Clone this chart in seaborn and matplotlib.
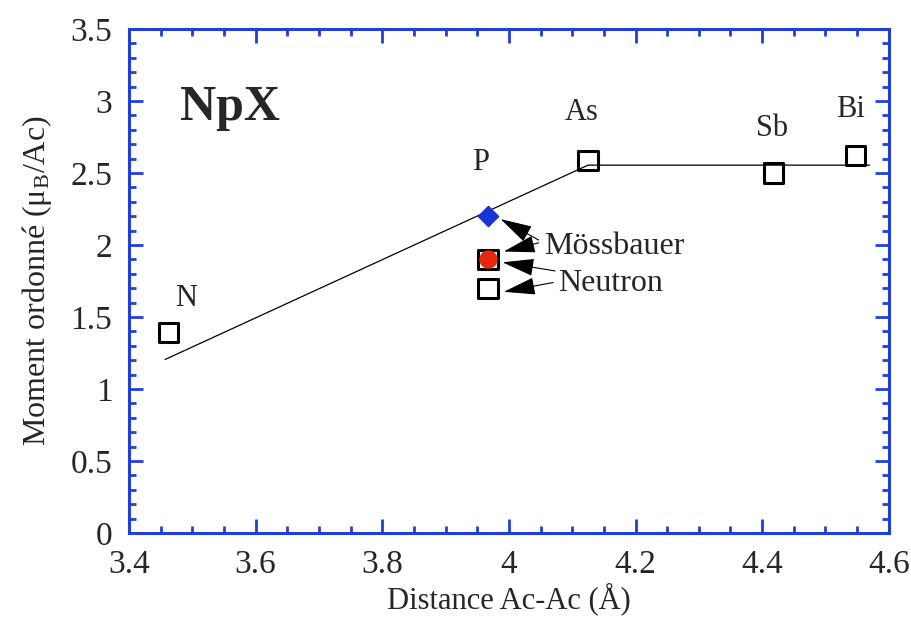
import numpy as np
import pandas as pd
import seaborn as sns
import matplotlib.pyplot as plt
from matplotlib.ticker import MultipleLocator


# measured points (open squares)
dist = [3.463, 3.967, 3.967, 4.125, 4.418, 4.548]
moment = [1.39, 1.90, 1.70, 2.59, 2.50, 2.62]

# Mossbauer points
moss_dist = [3.967, 3.967]
moss_moment = [2.20, 1.90]
moss_colors = ['#1533d6', '#e8280c']
moss_markers = ['D', 'o']

# guide line
line_x = [3.457, 4.125, 4.57]
line_y = [1.205, 2.555, 2.555]

# element labels
elem_names = ['N', 'P', 'As', 'Sb', 'Bi']
elem_x = [3.49, 3.955, 4.115, 4.415, 4.54]
elem_y = [1.63, 2.57, 2.92, 2.81, 2.94]

blue = '#1f3fdd'

sns.set_style("ticks")
plt.rcParams['font.family'] = ['Liberation Serif', 'DejaVu Serif']
plt.rcParams['mathtext.fontset'] = 'stix'

fig = plt.figure(figsize=(9.11, 6.19), dpi=100)
ax = fig.add_axes([0.1416, 0.139, 0.834, 0.814])

sns.lineplot(x=line_x, y=line_y, ax=ax, color='black', lw=0.9, sort=False)

df = pd.DataFrame({'d': dist, 'm': moment})
sns.scatterplot(data=df, x='d', y='m', ax=ax, marker='s', s=190,
                facecolor='none', edgecolor='black', linewidth=2.2, zorder=3)

for xx, yy, c, mk in zip(moss_dist, moss_moment, moss_colors, moss_markers):
    sns.scatterplot(x=[xx], y=[yy], ax=ax, marker=mk, s=110 if mk == 'D' else 150,
                    color=c, edgecolor=c, zorder=4)

for n, xx, yy in zip(elem_names, elem_x, elem_y):
    ax.text(xx, yy, n, fontsize=22, ha='center', va='center')

ax.text(3.56, 2.95, 'NpX', fontsize=36, fontweight='bold', ha='center', va='center')

# arrows from the labels to the points
arr = dict(arrowstyle='-|>,head_length=2.0,head_width=0.55', color='black', lw=0.8,
           shrinkA=0, shrinkB=0, mutation_scale=10)
ax.text(4.055, 1.99, 'Mössbauer', fontsize=23, ha='left', va='center')
ax.text(4.077, 1.73, 'Neutron', fontsize=23, ha='left', va='center')
ax.annotate('', xy=(3.987, 2.18), xytext=(4.047, 2.035), arrowprops=arr)
ax.annotate('', xy=(3.992, 1.955), xytext=(4.047, 2.015), arrowprops=arr)
ax.annotate('', xy=(3.990, 1.88), xytext=(4.073, 1.82), arrowprops=arr)
ax.annotate('', xy=(3.992, 1.675), xytext=(4.07, 1.74), arrowprops=arr)

ax.set_xlim(3.4, 4.6)
ax.set_ylim(0, 3.5)
ax.xaxis.set_minor_locator(MultipleLocator(0.05))
ax.yaxis.set_minor_locator(MultipleLocator(0.1))
ax.set_xticks(np.arange(3.4, 4.61, 0.2))
ax.set_xticklabels(['3.4', '3.6', '3.8', '4', '4.2', '4.4', '4.6'])
ax.set_yticks(np.arange(0, 3.51, 0.5))
ax.set_yticklabels(['0', '0.5', '1', '1.5', '2', '2.5', '3', '3.5'])

ax.tick_params(which='both', direction='in', top=True, right=True, color=blue,
               labelsize=24, width=2)
ax.tick_params(which='major', length=10, pad=12)
ax.tick_params(which='minor', length=5)
for s in ax.spines.values():
    s.set_color(blue)
    s.set_linewidth(2.2)

ax.set_xlabel('Distance Ac-Ac (Å)', fontsize=22, labelpad=2)
ax.set_ylabel(r'Moment ordonné ($\mathregular{\mu_B}$/Ac)', fontsize=23, labelpad=12)

plt.savefig('out.png', dpi=100)
